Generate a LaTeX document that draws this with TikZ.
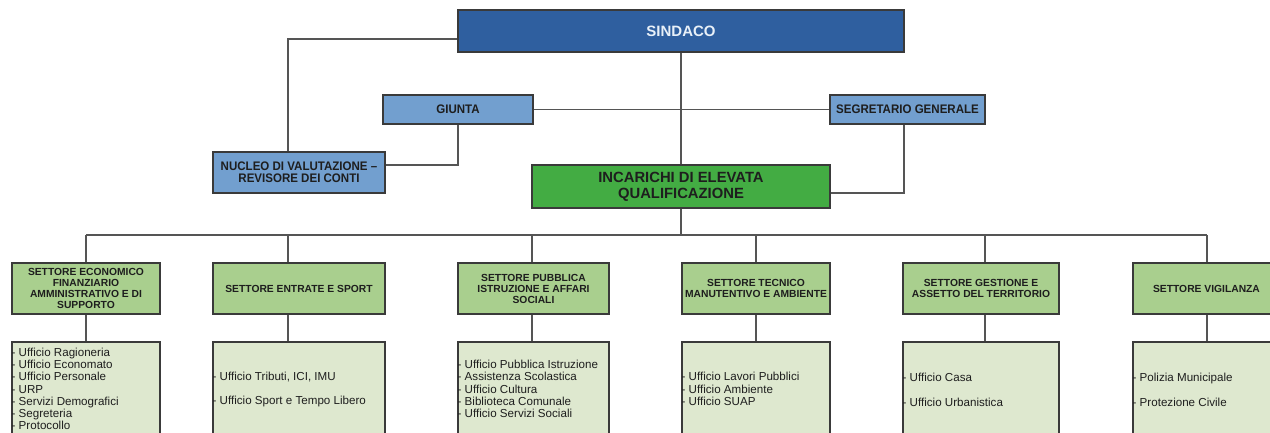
\documentclass[tikz,border=0pt]{standalone}
\usepackage{fontspec}
\setmainfont{Liberation Sans}
\newfontfamily\narrowfont[FakeStretch=0.93]{Liberation Sans}
\usetikzlibrary{calc}
\definecolor{sindblue}{HTML}{2F5F9F}
\definecolor{sindtext}{HTML}{E8F0F8}
\definecolor{lblue}{HTML}{729FCF}
\definecolor{incgreen}{HTML}{43AC43}
\definecolor{hgreen}{HTML}{A9CF8E}
\definecolor{lgreen}{HTML}{DEE8CF}
\definecolor{edgec}{HTML}{3A3A3A}
\definecolor{wire}{HTML}{555555}
\definecolor{ink}{HTML}{1E1E1E}
\begin{document}
\begin{tikzpicture}[x=1pt,y=-1pt,
  box/.style={draw=edgec, line width=1.1pt, inner sep=0pt, align=center, text=ink},
  topbox/.style={box, fill=sindblue, text=sindtext, font=\bfseries\fontsize{15}{18}\selectfont},
  bluebox/.style={box, fill=lblue, font=\narrowfont\bfseries\fontsize{12.4}{12}\selectfont},
  incbox/.style={box, fill=incgreen, font=\bfseries\fontsize{14.8}{16}\selectfont},
  sectbox/.style={box, fill=hgreen, minimum height=51pt, font=\bfseries\fontsize{10.3}{11}\selectfont},
  listbox/.style={box, fill=lgreen, minimum height=128pt},
  ltext/.style={inner sep=0pt, align=left, anchor=west, text=ink, font=\fontsize{11.6}{12.2}\selectfont},
  conn/.style={draw=wire, line width=1.1pt}]
\useasboundingbox (0,0) rectangle (1270,432);
\clip (0,0) rectangle (1270,432);
\fill[white] (0,0) rectangle (1270,432);

% top level
\node[topbox, minimum width=446pt, minimum height=42pt] (sindaco) at (681,31) {SINDACO};
\node[bluebox, minimum width=150pt, minimum height=29pt] (giunta) at (458,109.5) {GIUNTA};
\node[bluebox, minimum width=155pt, minimum height=29pt] (segr) at (907.5,109.5) {SEGRETARIO GENERALE};
\node[bluebox, minimum width=172pt, minimum height=41pt] (nucleo) at (299,172.5) {NUCLEO DI VALUTAZIONE –\\REVISORE DEI CONTI};
\node[incbox, minimum width=298pt, minimum height=43pt] (incar) at (681,186.5) {INCARICHI DI ELEVATA\\QUALIFICAZIONE};

% connectors of the top level
\coordinate (sA) at ($(sindaco.west)+(0,8)$);
\coordinate (nA) at ($(nucleo.north)+(-11,0)$);
\draw[conn] (sA) -| (nA);
\draw[conn] (giunta) -- (segr);
\draw[conn] (sindaco) -- (incar);
\coordinate (nE) at ($(nucleo.east)+(0,-7.5)$);
\draw[conn] (giunta.south) |- (nE);
\coordinate (gS) at ($(segr.south)+(-3.5,0)$);
\coordinate (iE) at ($(incar.east)+(0,6.5)$);
\draw[conn] (gS) |- (iE);

% sectors
\node[sectbox, minimum width=148pt] (s1) at (86,288.5) {SETTORE ECONOMICO\\FINANZIARIO\\AMMINISTRATIVO E DI\\SUPPORTO};
\node[sectbox, minimum width=172pt] (s2) at (299,288.5) {SETTORE ENTRATE E SPORT};
\node[sectbox, minimum width=151pt] (s3) at (533.5,288.5) {SETTORE PUBBLICA\\ISTRUZIONE E AFFARI\\SOCIALI};
\node[sectbox, minimum width=148pt] (s4) at (756,288.5) {SETTORE TECNICO\\MANUTENTIVO E AMBIENTE};
\node[sectbox, minimum width=156pt] (s5) at (981,288.5) {SETTORE GESTIONE E\\ASSETTO DEL TERRITORIO};
\node[sectbox, minimum width=147pt] (s6) at (1206.5,288.5) {SETTORE VIGILANZA};

\node[listbox, minimum width=148pt] (l1) at (86,406) {};
\node[listbox, minimum width=172pt] (l2) at (299,406) {};
\node[listbox, minimum width=151pt] (l3) at (533.5,406) {};
\node[listbox, minimum width=148pt] (l4) at (756,406) {};
\node[listbox, minimum width=156pt] (l5) at (981,406) {};
\node[listbox, minimum width=147pt] (l6) at (1206.5,406) {};

\node[ltext] (t1) at (l1.west |- 0,389) {- Ufficio Ragioneria\\- Ufficio Economato\\- Ufficio Personale\\- URP\\- Servizi Demografici\\- Segreteria\\- Protocollo};
\node[ltext] (t2) at (l2.west |- 0,389.5) {- Ufficio Tributi, ICI, IMU\\[12.6pt]- Ufficio Sport e Tempo Libero};
\node[ltext] (t3) at (l3.west |- 0,389) {- Ufficio Pubblica Istruzione\\- Assistenza Scolastica\\- Ufficio Cultura\\- Biblioteca Comunale\\- Ufficio Servizi Sociali};
\node[ltext] (t4) at (l4.west |- 0,389) {- Ufficio Lavori Pubblici\\- Ufficio Ambiente\\- Ufficio SUAP};
\node[ltext] (t5) at (l5.west |- 0,389.5) {- Ufficio Casa\\[12.6pt]- Ufficio Urbanistica};
\node[ltext] (t6) at (l6.west |- 0,389.5) {- Polizia Municipale\\[12.6pt]- Protezione Civile};

% bus and drops
\coordinate (bus) at ($(incar.south)+(1,27)$);
\draw[conn] (incar.south) -- (incar.south |- bus);
\coordinate (b1) at (86,235);
\coordinate (b2) at (288,235);
\coordinate (b3) at (532,235);
\coordinate (b4) at (756,235);
\coordinate (b5) at (985,235);
\coordinate (b6) at (1207,235);
\draw[conn] (b1) -- (b6);
\foreach \i in {1,...,6}{
  \draw[conn] (b\i) -- (b\i |- s\i.north);
  \draw[conn] (b\i |- s\i.south) -- (b\i |- l\i.north);
}
\end{tikzpicture}
\end{document}
